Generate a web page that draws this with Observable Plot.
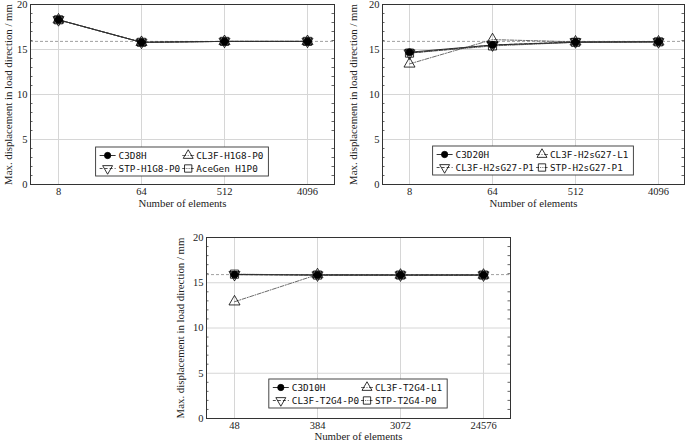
<!DOCTYPE html>
<html><head><meta charset="utf-8">
<script src="https://cdn.jsdelivr.net/npm/d3@7"></script>
<script src="https://cdn.jsdelivr.net/npm/@observablehq/plot@0.6"></script>
<style>
body{margin:0;background:#fff;}
#wrap{position:relative;width:685px;height:442px;overflow:hidden;background:#fff;}
#wrap svg{position:absolute;}
#wrap svg text{font-family:'Liberation Serif', serif;}
#wrap svg g.legend text{font-family:'DejaVu Sans Mono', monospace;}
</style></head><body><div id="wrap"></div>
<script>
// ---------- data ----------
const elemsHex = ["8", "64", "512", "4096"];
const elemsTet = ["48", "384", "3072", "24576"];
const yTicks = [0, 5, 10, 15, 20];
const yMinor = [1,2,3,4,6,7,8,9,11,12,13,14,16,17,18,19];
const refValue = 15.9;
const xLabel = "Number of elements";
const yLabel = "Max. displacement in load direction / mm";

// linear hexahedra
const namesH1 = ["C3D8H", "CL3F-H1G8-P0", "STP-H1G8-P0", "AceGen H1P0"];
const valC3D8H      = [18.3, 15.8, 15.9, 15.9];
const valCL3F_H1G8  = [18.3, 15.8, 15.9, 15.9];
const valSTP_H1G8   = [18.3, 15.8, 15.9, 15.9];
const valAceGenH1P0 = [18.3, 15.8, 15.9, 15.9];

// quadratic hexahedra
const namesH2 = ["C3D20H", "CL3F-H2sG27-L1", "CL3F-H2sG27-P1", "STP-H2sG27-P1"];
const valC3D20H     = [14.7, 15.5, 15.8, 15.85];
const valCL3F_H2_L1 = [13.4, 16.1, 15.85, 15.85];
const valCL3F_H2_P1 = [14.6, 15.5, 15.85, 15.85];
const valSTP_H2_P1  = [14.6, 15.4, 15.8, 15.85];

// quadratic tetrahedra
const namesT2 = ["C3D10H", "CL3F-T2G4-L1", "CL3F-T2G4-P0", "STP-T2G4-P0"];
const valC3D10H     = [15.9, 15.85, 15.85, 15.85];
const valCL3F_T2_L1 = [12.9, 15.9, 15.85, 15.85];
const valCL3F_T2_P0 = [15.9, 15.85, 15.85, 15.85];
const valSTP_T2_P0  = [15.95, 15.85, 15.85, 15.85];

// ---------- styles ----------
const sqrt3 = Math.sqrt(3);
const triangleDown = {
  draw(context, size) {
    const y = -Math.sqrt(size / (sqrt3 * 3));
    context.moveTo(0, -y * 2);
    context.lineTo(-sqrt3 * y, y);
    context.lineTo(sqrt3 * y, y);
    context.closePath();
  }
};
const seriesStyle = [
  {symbol: "circle", r: 3.5, fill: "black", stroke: "black", line: "#000", dash: null},
  {symbol: "triangle", r: 4.1, fill: "none", stroke: "black", line: "#444", dash: "4,1.5,1,1.5"},
  {symbol: triangleDown, r: 4.1, fill: "none", stroke: "black", line: "#222", dash: "3,2"},
  {symbol: "square", r: 4.6, fill: "none", stroke: "black", line: "#333", dash: "3,1.2,1,1.2,1,1.2"}
];
const d3Sym = {circle: d3.symbolCircle, triangle: d3.symbolTriangle, square: d3.symbolSquare};

const wrap = document.getElementById("wrap");

function makeChart(cfg) {
  const {xs, names, series, left, top, width, height, mL, mR, mT, mB, xlabDy, ylabDx, legendGap} = cfg;
  const rows = [];
  series.forEach((vals, i) => vals.forEach((v, j) => rows.push({x: xs[j], y: v, s: i})));
  const fw = width - mL - mR;
  const marks = [
    Plot.gridX(xs, {stroke: "#d6d6d6", strokeOpacity: 1, strokeWidth: 1}),
    Plot.gridY(yTicks, {stroke: "#d6d6d6", strokeOpacity: 1, strokeWidth: 1}),
    Plot.tickY(yMinor, {stroke: "#666", insetRight: fw - 2.5}),
    Plot.tickY(yMinor, {stroke: "#666", insetLeft: fw - 2.5}),
    Plot.ruleY([refValue], {stroke: "#888", strokeDasharray: "3,2", strokeWidth: 0.8}),
  ];
  series.forEach((vals, i) => {
    const st = seriesStyle[i];
    marks.push(Plot.line(rows.filter(d => d.s === i), {x: "x", y: "y", stroke: st.line, strokeWidth: 0.8, strokeDasharray: st.dash}));
  });
  series.forEach((vals, i) => {
    const st = seriesStyle[i];
    marks.push(Plot.dot(rows.filter(d => d.s === i), {x: "x", y: "y", symbol: st.symbol, r: st.r, fill: st.fill, stroke: st.stroke, strokeWidth: 0.8}));
  });
  marks.push(Plot.frame({stroke: "#333", strokeWidth: 1}));
  marks.push(Plot.text([yLabel], {frameAnchor: "left", textAnchor: "middle", rotate: -90, dx: ylabDx, fontSize: 10.8, fill: "#222"}));
  marks.push(Plot.text([xLabel], {frameAnchor: "bottom", dy: xlabDy, fontSize: 10.8, fill: "#222"}));

  const svg = Plot.plot({
    width, height,
    marginLeft: mL, marginRight: mR, marginTop: mT, marginBottom: mB,
    style: "font-family: 'Liberation Serif', serif; font-size: 10.5px; color: #222; background: transparent; overflow: visible;",
    x: {type: "point", domain: xs, padding: 0.31, label: null, tickSize: 0, tickPadding: 3},
    y: {domain: [0, 20], ticks: yTicks, tickSize: 0, tickPadding: 3, label: null},
    marks
  });
  svg.style.left = left + "px";
  svg.style.top = top + "px";
  wrap.appendChild(svg);

  // legend (2 columns)
  const fs = 9.3, cw = 0.602 * fs;
  const c1w = Math.max(names[0].length, names[2].length) * cw;
  const c2w = Math.max(names[1].length, names[3].length) * cw;
  const bw = 23 + c1w + 2 + 14 + c2w + 5;
  const bh = 29;
  const bx = (mL + width - mR) / 2 - bw / 2;
  const by = height - mB - legendGap - bh;
  const g = d3.select(svg).append("g").attr("class", "legend")
    .attr("font-size", fs).attr("text-anchor", "start");
  g.append("rect").attr("x", bx).attr("y", by).attr("width", bw).attr("height", bh)
    .attr("fill", "white").attr("stroke", "#333").attr("stroke-width", 0.9);
  const c2 = bx + 23 + c1w + 2;
  const pos = [
    {lx1: bx + 4, lx2: bx + 20, mx: bx + 12, tx: bx + 23, y: by + 8.5},
    {lx1: c2, lx2: c2 + 12, mx: c2 + 6, tx: c2 + 14, y: by + 8.5},
    {lx1: bx + 4, lx2: bx + 20, mx: bx + 12, tx: bx + 23, y: by + 21.5},
    {lx1: c2, lx2: c2 + 12, mx: c2 + 6, tx: c2 + 14, y: by + 21.5}
  ];
  names.forEach((name, i) => {
    const st = seriesStyle[i], p = pos[i];
    g.append("line").attr("x1", p.lx1).attr("x2", p.lx2).attr("y1", p.y).attr("y2", p.y)
      .attr("stroke", st.line).attr("stroke-width", 0.8).attr("stroke-dasharray", st.dash);
    const type = typeof st.symbol === "string" ? d3Sym[st.symbol] : st.symbol;
    const r = st.r * 0.9;
    g.append("path").attr("d", d3.symbol(type, Math.PI * r * r)())
      .attr("transform", `translate(${p.mx},${p.y})`)
      .attr("fill", st.fill).attr("stroke", st.stroke).attr("stroke-width", 0.8);
    g.append("text").attr("x", p.tx).attr("y", p.y).attr("dy", "0.35em").attr("fill", "#111").text(name);
  });
}

makeChart({xs: elemsHex, names: namesH1, series: [valC3D8H, valCL3F_H1G8, valSTP_H1G8, valAceGenH1P0],
  left: 0, top: 0, width: 340, height: 215, mL: 30, mR: 6, mT: 4, mB: 31, xlabDy: 22, ylabDx: -22, legendGap: 8});
makeChart({xs: elemsHex, names: namesH2, series: [valC3D20H, valCL3F_H2_L1, valCL3F_H2_P1, valSTP_H2_P1],
  left: 345, top: 0, width: 340, height: 215, mL: 37, mR: 1, mT: 4, mB: 31, xlabDy: 22, ylabDx: -29, legendGap: 9});
makeChart({xs: elemsTet, names: namesT2, series: [valC3D10H, valCL3F_T2_L1, valCL3F_T2_P0, valSTP_T2_P0],
  left: 165, top: 225, width: 350, height: 217, mL: 41, mR: 5, mT: 12, mB: 24, xlabDy: 21, ylabDx: -26, legendGap: 10});
</script></body></html>
